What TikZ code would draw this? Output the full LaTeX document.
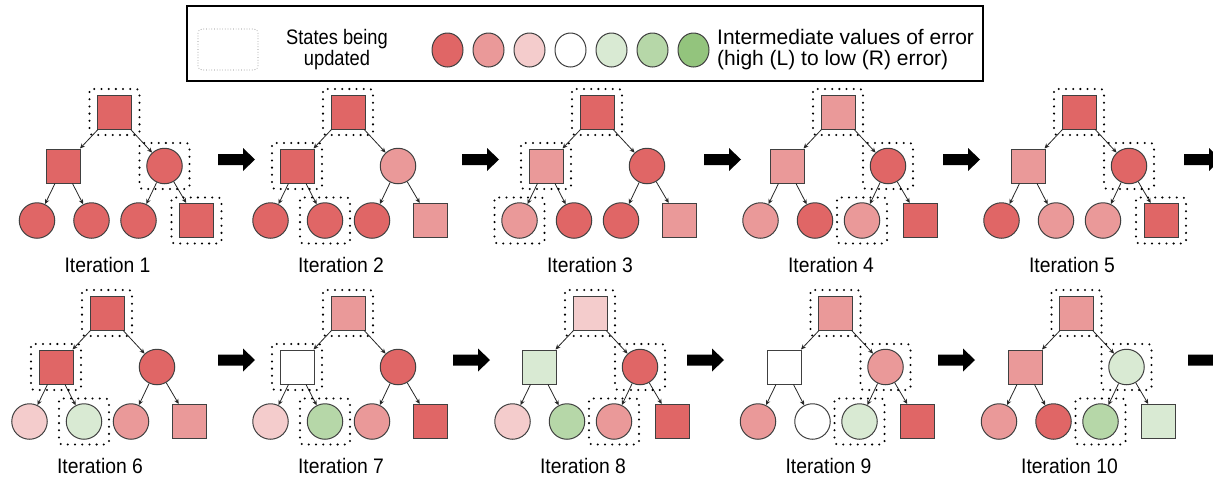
\documentclass[tikz,border=0pt]{standalone}
\usepackage{fontspec}
\setmainfont{Liberation Sans}
\newfontfamily\lgdfont[FakeStretch=0.87]{Liberation Sans}
\newfontfamily\itfont[FakeStretch=0.92]{Liberation Sans}
\usetikzlibrary{arrows.meta, shapes.geometric}

% error scale, high (e1) to low (e7)
\definecolor{e1}{HTML}{E06666}
\definecolor{e2}{HTML}{EA9999}
\definecolor{e3}{HTML}{F4CCCC}
\definecolor{e4}{HTML}{FFFFFF}
\definecolor{e5}{HTML}{D9EAD3}
\definecolor{e6}{HTML}{B6D7A8}
\definecolor{e7}{HTML}{93C47D}

\begin{document}
\begin{tikzpicture}[x=1pt, y=-1pt,
    sq/.style={draw=black!75, line width=1pt, minimum size=34pt, inner sep=0pt},
    circ/.style={circle, draw=black!75, line width=1pt, minimum size=35.5pt, inner sep=0pt},
    edge/.style={-{Stealth[length=5pt,width=4.5pt]}, line width=0.8pt, black!85},
    upd/.style={line width=2.3pt, dash pattern=on 0pt off 7.2pt, line cap=round, rounded corners=3pt},
    lgd/.style={inner sep=0pt, font=\fontsize{21}{21}\selectfont},
    lbl/.style={inner sep=0pt, font=\itfont\fontsize{21}{21}\selectfont},
    lgdball/.style={ellipse, draw=black!75, line width=1pt, minimum width=31pt, minimum height=34pt, inner sep=0pt}]
    \useasboundingbox (0,0) rectangle (1213,480);

    % Legend
    \node[draw, line width=1.5pt, minimum width=796pt, minimum height=75pt, inner sep=0pt] (legend) at (585,43.5) {};
    \draw[gray, dotted, line width=0.7pt, rounded corners=4pt] (198,29) rectangle (258,70);
    \node[lgd, font=\lgdfont\fontsize{21}{21}\selectfont, align=center] (lgdupd) at (337,50) {States being\\updated};
    \foreach \c [count=\i] in {e1,e2,e3,e4,e5,e6,e7}
        \node[lgdball, fill=\c] (ball\i) at ({447.5+41*(\i-1)},50) {};
    \node[lgd, align=left, anchor=west] (lgderr) at (717,50) {Intermediate values of error\\(high (L) to low (R) error)};

    % Trees: root, left/right child, four leaves
    \foreach \n/\rx/\ry/\colr/\cola/\colb/\colc/\cold/\cole/\colf in {
        1/114.5/112/e1/e1/e1/e1/e1/e1/e1,
        2/348/112/e1/e1/e2/e1/e1/e1/e2,
        3/597/112/e1/e2/e1/e2/e1/e1/e2,
        4/838/112/e2/e2/e1/e2/e1/e2/e1,
        5/1079/112/e1/e2/e1/e1/e2/e2/e1,
        6/107/313/e1/e1/e1/e3/e5/e2/e2,
        7/348/313/e2/e4/e1/e3/e6/e2/e1,
        8/590/313/e3/e5/e1/e3/e6/e2/e1,
        9/835.5/313/e2/e4/e2/e2/e4/e5/e1,
        10/1076.5/313/e2/e2/e5/e2/e1/e6/e5}
    {
        \node[sq, fill=\colr] (t\n-r) at (\rx,\ry) {};
        \node[sq, fill=\cola] (t\n-a) at (\rx-51,\ry+54) {};
        \node[circ, fill=\colb] (t\n-b) at (\rx+50,\ry+54) {};
        \node[circ, fill=\colc] (t\n-aa) at (\rx-77.5,\ry+108.5) {};
        \node[circ, fill=\cold] (t\n-ab) at (\rx-23,\ry+108.5) {};
        \node[circ, fill=\cole] (t\n-ba) at (\rx+24,\ry+108.5) {};
        \node[sq, fill=\colf] (t\n-bb) at (\rx+82,\ry+108.5) {};
        \draw[edge] (t\n-r) -- (t\n-a);
        \draw[edge] (t\n-r) -- (t\n-b);
        \draw[edge] (t\n-a) -- (t\n-aa);
        \draw[edge] (t\n-a) -- (t\n-ab);
        \draw[edge] (t\n-b) -- (t\n-ba);
        \draw[edge] (t\n-b) -- (t\n-bb);
        \node[lbl, anchor=base] (lab\n) at (\rx-7,\ry+160) {Iteration \n};
    }

    % States being updated
    \foreach \n/\k in {1/r,1/b,1/bb, 2/r,2/a,2/ab, 3/r,3/a,3/aa, 4/r,4/b,4/ba, 5/r,5/b,5/bb,
                       6/r,6/a,6/ab, 7/r,7/a,7/ab, 8/r,8/b,8/ba, 9/r,9/b,9/ba, 10/r,10/b,10/ba}
        \draw[upd] ([shift={(-25,-23)}]t\n-\k.center) rectangle ([shift={(25,23)}]t\n-\k.center);

    % Block arrows between iterations
    \foreach \ax/\ay in {218/159.5, 462/159.5, 704/159.5, 943/159.5, 1184/159.5,
                         218/360, 453/360, 687/360, 938/360, 1188/360}
        \fill (\ax,\ay-5.5) -- ++(25,0) -- ++(0,-6) -- ++(12,11.5) -- ++(-12,11.5) -- ++(0,-6) -- ++(-25,0) -- cycle;
\end{tikzpicture}
\end{document}
